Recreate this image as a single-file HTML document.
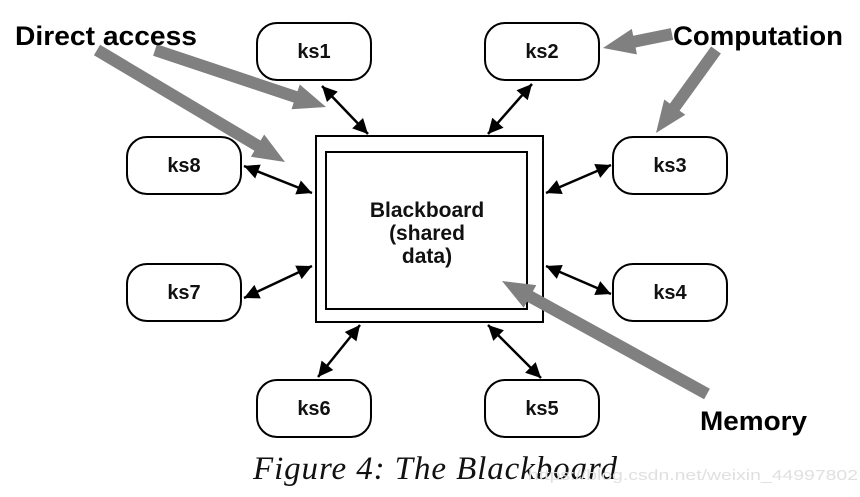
<!DOCTYPE html>
<html><head><meta charset="utf-8"><style>
html,body{margin:0;padding:0;background:#fff;}
svg{display:block;}
.b{font-family:"Liberation Sans",Arial,sans-serif;font-weight:bold;}
</style></head><body>
<svg id="s" width="860" height="497" viewBox="0 0 860 497" xmlns="http://www.w3.org/2000/svg">
<defs>
<marker id="ah" viewBox="0 0 10 10" refX="10" refY="5" markerWidth="22" markerHeight="15" markerUnits="userSpaceOnUse" orient="auto-start-reverse">
<path d="M0,0 L10,5 L0,10 z" fill="#000"/>
</marker>
</defs>
<g fill="#fff" stroke="#000" stroke-width="2">
<rect x="257" y="23" width="114" height="57" rx="20"/>
<rect x="485" y="23" width="114" height="57" rx="20"/>
<rect x="613" y="137" width="114" height="57" rx="20"/>
<rect x="127" y="137" width="114" height="57" rx="20"/>
<rect x="127" y="264" width="114" height="57" rx="20"/>
<rect x="613" y="264" width="114" height="57" rx="20"/>
<rect x="257" y="380" width="114" height="57" rx="20"/>
<rect x="485" y="380" width="114" height="57" rx="20"/>
<rect x="316" y="136" width="227" height="186"/>
<rect x="326" y="152" width="201" height="157"/>
</g>
<g class="b" font-size="20" text-anchor="middle" fill="#111">
<text x="314" y="58">ks1</text>
<text x="542" y="58">ks2</text>
<text x="670" y="172">ks3</text>
<text x="184" y="172">ks8</text>
<text x="184" y="299">ks7</text>
<text x="670" y="299">ks4</text>
<text x="314" y="415">ks6</text>
<text x="542" y="415">ks5</text>
</g>
<g class="b" font-size="21" text-anchor="middle" fill="#111">
<text x="427" y="217">Blackboard</text>
<text x="427" y="240">(shared</text>
<text x="427" y="263">data)</text>
</g>
<g stroke="#000" stroke-width="2.5" marker-start="url(#ah)" marker-end="url(#ah)">
<line x1="322" y1="86" x2="368" y2="134"/>
<line x1="532" y1="84" x2="488" y2="134"/>
<line x1="244" y1="166" x2="312" y2="193"/>
<line x1="611" y1="165" x2="546" y2="193"/>
<line x1="244" y1="298" x2="312" y2="266"/>
<line x1="611" y1="294" x2="546" y2="266"/>
<line x1="318" y1="377" x2="360" y2="325"/>
<line x1="541" y1="378" x2="488" y2="325"/>
</g>
<g id="gray" fill="#808080"></g>
<g class="b" font-size="27" fill="#000">
<text x="15" y="45" textLength="182" lengthAdjust="spacingAndGlyphs">Direct access</text>
<text x="673" y="45" textLength="170" lengthAdjust="spacingAndGlyphs">Computation</text>
<text x="700" y="430" textLength="107" lengthAdjust="spacingAndGlyphs">Memory</text>
</g>
<text x="253" y="479" font-family="'Liberation Serif',serif" font-style="italic" font-size="33" fill="#111" textLength="364" lengthAdjust="spacing">Figure 4: The Blackboard</text>
<text x="528" y="480" font-family="'Liberation Sans',sans-serif" font-size="15" fill="#e0e0e0" textLength="330" lengthAdjust="spacingAndGlyphs">https://blog.csdn.net/weixin_44997802</text>
<script>
(function(){
var g=document.getElementById('gray');
function arr(x1,y1,x2,y2){
 var dx=x2-x1,dy=y2-y1,L=Math.hypot(dx,dy),ux=dx/L,uy=dy/L,px=-uy,py=ux;
 var w=6,hw=13,hl=32;
 var bx=x2-ux*hl,by=y2-uy*hl;
 var p=[[x1+px*w,y1+py*w],[bx+px*w,by+py*w],[bx+px*hw,by+py*hw],[x2,y2],[bx-px*hw,by-py*hw],[bx-px*w,by-py*w],[x1-px*w,y1-py*w]];
 var e=document.createElementNS('http://www.w3.org/2000/svg','polygon');
 e.setAttribute('points',p.map(function(q){return q[0].toFixed(1)+','+q[1].toFixed(1)}).join(' '));
 g.appendChild(e);
}
arr(155,50,326,107);
arr(97,50,285,162);
arr(672,34,603,48);
arr(716,50,656,133);
arr(707,394,502,281);
})();
</script>
</svg>
</body></html>
